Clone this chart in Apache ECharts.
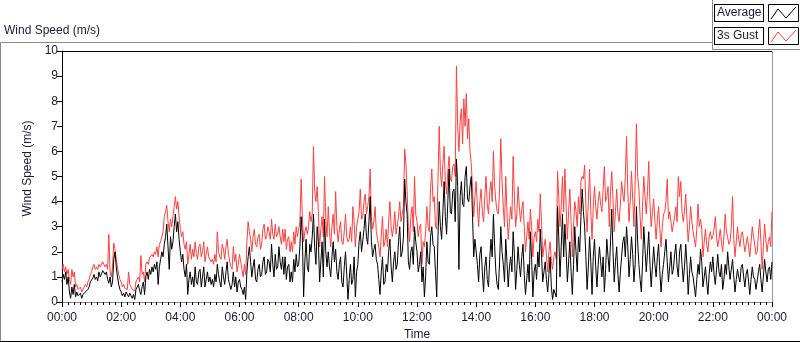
<!DOCTYPE html>
<html>
<head>
<meta charset="utf-8">
<title>Wind Speed</title>
<script src="https://cdn.jsdelivr.net/npm/echarts@6/dist/echarts.min.js"></script>
<style>
  html, body { margin: 0; padding: 0; background: #fff; }
</style>
</head>
<body>
<div id="main" style="width:800px;height:342px;"></div>
<script>
// 2.5-minute samples, 00:00 .. 24:00 (577 points), two rows per hour
var stepMinutes = 2.5;
var avgSpeed = [
  0.8,1.1,0.9,1.2,0.7,1.0,0.4,0.15,0.6,0.3,0.7,0.2,
  0.4,0.25,0.2,0.35,0.15,0.3,0.25,0.4,0.35,0.5,0.6,0.8,
  0.8,0.95,1.1,0.9,1.0,0.85,1.2,1.0,1.1,1.25,1.3,1.1,
  1.2,0.9,0.75,1.0,0.6,0.8,1.7,2.0,1.4,1.0,0.7,0.5,
  0.4,0.25,0.35,0.2,0.4,0.3,0.2,0.35,0.25,0.15,0.3,0.1,
  0.5,0.6,0.7,0.45,0.3,0.6,0.8,0.3,1.0,1.2,0.9,1.3,
  1.1,1.4,1.2,1.5,1.3,1.6,0.7,1.4,1.7,2.0,1.8,2.3,
  2.6,3.1,2.2,1.3,2.6,2.1,2.4,3.0,3.5,2.8,3.2,2.5,
  2.0,1.6,1.9,1.3,1.0,1.5,0.3,0.9,1.2,0.7,1.0,0.6,
  1.4,0.8,0.7,1.2,1.3,0.6,1.0,1.4,0.6,0.9,1.2,0.8,
  1.0,0.7,0.9,0.6,1.1,0.8,1.5,1.1,0.8,0.6,1.4,1.0,
  0.7,1.2,1.6,0.9,0.9,0.5,0.7,1.2,0.6,1.0,0.4,0.8,
  0.9,0.6,0.5,0.3,0.6,0.1,1.2,1.8,2.2,1.6,1.0,1.4,
  1.7,0.9,0.8,1.3,1.5,1.0,1.1,1.6,1.8,1.1,1.2,1.7,
  1.6,1.2,2.3,1.5,1.0,1.9,1.3,1.4,2.2,1.6,1.3,1.8,
  1.1,1.8,0.9,1.4,1.5,0.8,1.2,0.8,1.7,1.2,1.9,1.4,
  1.5,2.2,3.4,2.6,0.2,1.6,2.5,1.4,1.2,2.3,2.0,2.6,
  3.5,2.2,1.5,3.0,2.4,0.8,1.6,2.4,1.0,3.3,2.0,1.4,
  2.0,1.4,1.0,1.8,2.4,1.6,2.1,1.2,0.9,1.5,1.8,0.8,
  0.6,1.4,2.0,1.1,0.1,0.9,1.5,0.7,0.9,1.8,0.2,1.2,
  1.5,2.4,2.8,2.0,2.0,2.9,3.5,2.6,2.3,3.2,4.2,2.4,
  1.8,2.1,2.3,1.7,1.5,0.9,0.3,1.2,1.8,0.7,0.8,1.5,
  1.2,2.0,2.5,1.4,0.8,1.6,2.0,1.3,1.5,2.4,3.0,1.8,
  2.0,2.6,4.9,4.0,3.5,1.6,1.3,2.0,2.2,1.5,3.0,2.4,
  2.0,1.2,1.5,2.0,0.8,1.4,0.2,1.0,2.4,1.6,1.5,2.6,
  3.0,2.3,2.2,1.2,0.2,2.6,4.0,3.0,2.5,3.6,4.8,3.4,
  2.7,4.0,5.3,3.6,3.5,4.4,4.5,3.2,5.7,4.6,1.3,4.2,
  4.8,3.9,3.8,5.0,5.4,4.1,4.0,4.6,5.0,3.5,1.8,2.5,
  2.5,1.5,0.8,1.9,2.2,1.2,0.4,1.4,1.8,0.9,0.6,1.7,
  2.5,1.8,3.5,2.2,1.2,0.7,0.5,1.6,3.0,2.0,1.5,0.8,
  2.5,1.6,0.6,1.4,1.8,1.2,2.8,1.9,0.5,1.3,2.2,1.5,
  1.0,1.8,2.3,1.1,0.3,0.9,1.5,0.8,2.8,1.7,0.2,1.2,
  1.5,0.9,2.0,1.4,2.9,1.9,0.8,1.2,1.6,0.9,0.4,1.1,
  1.8,0.6,0.1,0.5,0.5,0.2,3.8,2.6,1.0,2.2,3.5,1.8,
  3.1,2.0,0.8,1.6,2.4,1.2,0.3,1.5,3.0,2.0,1.2,2.6,
  2.0,3.4,4.5,3.6,3.0,1.8,0.5,1.4,2.6,1.6,0.3,1.8,
  2.5,1.4,0.6,1.5,2.2,1.6,1.0,1.8,0.4,1.3,2.5,1.8,
  1.2,2.4,3.7,2.0,0.8,1.6,2.2,1.1,0.4,1.2,1.8,2.4,
  2.6,1.8,3.0,2.2,1.0,1.7,2.6,1.9,0.8,1.5,3.8,2.4,
  1.5,0.9,0.4,1.6,3.0,2.1,1.2,2.0,2.8,1.5,0.6,1.4,
  2.2,1.5,1.0,1.8,2.3,1.2,0.4,1.1,1.5,2.0,2.5,1.6,
  0.8,1.4,2.0,1.1,1.3,1.9,2.3,1.4,1.0,2.0,2.3,1.5,
  0.8,1.4,2.3,1.5,0.3,1.1,1.8,1.2,1.0,0.6,0.2,0.9,
  1.5,1.1,2.1,1.6,0.6,1.0,1.4,0.8,0.3,1.1,1.6,1.2,
  1.8,1.1,0.7,1.3,1.9,1.2,1.0,1.5,0.5,0.9,1.5,1.1,
  2.0,1.4,0.9,1.3,1.7,1.0,0.4,0.9,1.3,1.0,0.8,1.4,
  1.5,1.0,0.6,1.1,1.3,0.8,0.3,0.9,1.4,1.0,0.9,0.5,
  0.5,1.2,1.5,0.9,0.4,1.0,1.7,1.2,0.8,1.3,1.4,0.9,
  1.6
];
var gustSpeed = [
  1.3,1.5,1.2,1.4,1.1,1.3,0.9,0.7,1.3,1.0,1.2,0.6,
  0.7,0.5,0.45,0.6,0.4,0.5,0.55,0.7,0.6,0.8,0.9,1.1,
  1.2,1.4,1.5,1.3,1.4,1.3,1.5,1.4,1.4,1.6,1.6,1.4,
  1.5,1.3,2.7,1.2,1.0,1.4,2.35,2.1,1.7,1.4,1.1,0.9,
  0.8,0.6,0.7,0.55,0.6,0.5,1.2,0.7,0.6,0.5,0.55,0.45,
  0.8,0.9,1.0,0.8,1.85,1.1,1.2,0.8,1.5,1.6,1.5,1.75,
  1.8,1.9,1.8,2.0,1.9,2.2,1.8,2.3,2.4,2.6,2.8,3.4,
  3.6,3.85,3.2,2.8,3.3,3.0,3.4,3.8,4.2,3.7,4.0,3.4,
  2.9,2.6,2.8,2.3,2.1,2.4,1.5,1.9,2.3,1.7,2.1,1.8,
  2.4,1.9,1.7,2.2,2.3,1.8,2.0,2.4,1.6,1.9,2.2,1.8,
  1.8,1.6,1.7,1.5,1.9,1.6,2.8,2.0,1.8,1.7,2.3,2.1,
  1.7,2.2,2.5,1.9,1.9,1.4,1.3,2.2,1.6,1.9,1.2,1.5,
  1.9,1.6,1.3,1.0,1.5,1.1,2.4,3.2,2.8,2.5,2.0,2.6,
  2.9,2.3,2.2,2.6,2.7,2.1,2.3,2.9,3.1,2.5,2.6,3.0,
  2.8,2.5,3.3,2.7,2.5,3.1,2.6,2.7,3.0,2.6,2.3,2.9,
  2.4,2.9,2.1,2.5,2.6,2.0,2.4,2.0,2.8,2.3,3.0,2.6,
  2.6,3.2,4.9,3.4,2.4,2.8,3.0,2.7,3.0,3.6,3.2,3.5,
  6.2,4.4,4.0,4.6,3.6,2.2,2.9,3.4,2.6,5.0,3.3,2.6,
  3.8,2.8,2.2,3.0,3.5,2.7,4.4,3.0,2.4,2.9,3.2,2.4,
  2.3,2.8,3.5,2.6,2.4,2.5,3.0,2.4,3.8,3.2,2.2,3.0,
  3.0,3.6,4.5,3.3,3.4,4.0,4.3,3.5,3.8,4.2,5.3,3.4,
  2.9,3.2,3.8,2.8,2.5,2.2,1.8,2.6,3.4,2.2,2.4,2.9,
  2.2,3.2,4.0,3.0,2.6,3.0,3.6,2.7,2.7,3.4,4.0,3.2,
  3.2,3.8,6.1,5.5,4.4,3.0,2.4,3.4,3.8,2.8,5.0,3.5,
  3.2,2.6,3.0,3.1,1.5,2.4,2.2,2.8,3.8,3.0,2.8,4.5,
  5.3,4.0,4.2,3.0,2.9,4.8,7.0,5.2,4.6,5.5,6.2,4.8,
  4.3,5.2,5.8,4.9,4.8,5.4,5.5,5.0,9.4,7.0,6.0,7.2,
  7.7,6.3,8.1,7.0,8.3,6.5,7.3,6.0,5.5,4.6,3.4,4.2,
  4.8,3.8,3.0,4.0,4.5,3.6,3.2,4.2,5.0,3.9,3.5,4.4,
  4.8,4.0,6.0,4.6,4.0,3.6,3.5,4.5,6.5,4.8,3.8,3.0,
  5.0,3.6,2.5,3.2,3.8,3.3,5.8,4.2,3.0,3.5,4.6,3.8,
  3.2,3.7,4.0,3.0,2.0,2.6,3.2,2.5,3.7,3.0,1.8,2.6,
  2.8,2.4,3.3,2.8,4.3,3.2,1.8,2.2,2.5,1.9,1.2,2.0,
  2.4,1.6,1.3,1.8,2.0,1.7,5.2,4.2,3.0,3.8,5.0,3.6,
  5.3,3.8,2.5,3.6,4.5,3.2,1.8,3.0,4.0,3.6,3.0,4.2,
  3.5,4.8,5.0,4.9,5.45,3.8,2.8,4.0,5.3,3.6,2.5,3.8,
  4.6,3.8,3.3,4.0,4.4,3.9,3.6,4.5,5.4,4.0,4.2,4.6,
  3.0,4.4,5.2,4.1,2.8,3.6,4.5,3.5,3.2,3.9,4.8,4.3,
  4.0,5.0,6.6,4.4,3.2,4.0,5.2,4.1,3.0,4.8,7.1,5.0,
  4.5,3.4,2.5,3.8,5.0,4.2,3.5,4.4,5.6,3.9,3.0,3.6,
  4.1,3.2,2.5,3.3,3.8,2.9,2.2,3.0,3.5,3.6,4.0,4.9,
  3.3,3.6,3.6,2.8,2.8,3.4,3.8,3.2,5.0,4.2,4.8,3.6,
  3.2,3.6,4.3,3.3,2.4,3.0,3.8,3.2,2.8,2.5,2.2,2.9,
  3.9,3.0,3.3,2.9,1.8,2.4,2.9,2.3,2.0,2.6,2.8,2.5,
  2.6,2.9,3.4,2.6,2.2,2.5,2.9,2.4,2.0,2.6,3.5,2.8,
  2.6,2.3,2.4,3.0,4.2,2.5,1.8,2.4,3.0,2.5,2.2,2.7,
  2.8,2.4,2.0,2.3,2.6,2.2,1.8,2.4,3.0,2.6,2.3,1.9,
  2.0,2.7,3.3,2.4,1.3,2.2,3.1,2.5,2.0,2.4,2.6,2.2,
  3.6
];
var yTicks = [0, 10, 1];
var seriesNames = ['Average', '3s Gust'];
var seriesColors = ['#000000', '#ff4040'];

function toPairs(values) {
  return values.map(function (v, i) { return [i * stepMinutes, v]; });
}
function pad(n) { return (n < 10 ? '0' : '') + n; }

var textColor = '#1a1a3a';
var font = 'Liberation Sans';

var myChart = echarts.init(document.getElementById('main'));

// legend: text box + zigzag swatch box
function swatch(x, y, color) {
  return [
    { type: 'rect', shape: { x: x + 0.5, y: y + 0.5, width: 30, height: 17 },
      style: { fill: '#fff', stroke: '#000', lineWidth: 1 } },
    { type: 'polyline', shape: { points: [[x + 3, y + 15], [x + 10, y + 5], [x + 18, y + 14], [x + 28, y + 3]] },
      style: { stroke: color, lineWidth: 1, fill: null } }
  ];
}
function legendText(x, y, txt) {
  return { type: 'text', x: x, y: y,
    style: { text: txt, fill: textColor, font: '12px "' + font + '"',
      backgroundColor: '#fff', borderColor: '#000', borderWidth: 1,
      padding: [1, 3, 1, 2], width: 43, height: 14, verticalAlign: 'middle', lineHeight: 14 } };
}

var option = {
  animation: false,
  backgroundColor: '#fff',
  grid: { left: 62, right: 28, top: 51, bottom: 40, show: false, outerBoundsMode: 'none', containLabel: false },
  title: {
    text: 'Wind Speed (m/s)', left: 4, top: 25, padding: 0,
    textStyle: { fontFamily: font, fontSize: 12, fontWeight: 'normal', color: textColor }
  },
  graphic: [
    // outer frame
    { type: 'polyline', shape: { points: [[712, 42.5], [0.5, 42.5], [0.5, 341.5]] },
      style: { stroke: '#8a8a8a', lineWidth: 1, fill: null } },
    { type: 'line', shape: { x1: 0, y1: 341.5, x2: 800, y2: 341.5 }, style: { stroke: '#000', lineWidth: 1 } },
    { type: 'polyline', shape: { points: [[712.5, 0], [712.5, 49.5], [800, 49.5]] },
      style: { stroke: '#8a8a8a', lineWidth: 1, fill: null } },
    // plot frame: top dark, right light
    { type: 'line', shape: { x1: 62, y1: 51.5, x2: 772, y2: 51.5 }, style: { stroke: '#000', lineWidth: 1 } },
    { type: 'line', shape: { x1: 772.5, y1: 51, x2: 772.5, y2: 302 }, style: { stroke: '#9a9a9a', lineWidth: 1 } },
    legendText(715, 13, seriesNames[0]),
    legendText(715, 36, seriesNames[1])
  ].concat(swatch(768, 4, seriesColors[0])).concat(swatch(768, 27, seriesColors[1])),
  xAxis: {
    type: 'value', min: 0, max: 1440, interval: 120,
    name: 'Time', nameLocation: 'middle', nameGap: 26,
    nameTextStyle: { fontFamily: font, fontSize: 12, color: textColor },
    axisLine: { show: true, lineStyle: { color: '#8a8a8a', width: 1 } },
    axisTick: { show: true, inside: false, length: 5, lineStyle: { color: '#000' } },
    minorTick: { show: true, splitNumber: 10, length: 3, lineStyle: { color: '#000' } },
    axisLabel: {
      margin: 10, color: textColor, fontFamily: font, fontSize: 12,
      formatter: function (v) { return pad(Math.floor(v / 60) % 24) + ':' + pad(v % 60); }
    },
    splitLine: { show: false }
  },
  yAxis: {
    type: 'value', min: yTicks[0], max: yTicks[1], interval: yTicks[2],
    name: 'Wind Speed (m/s)', nameLocation: 'middle', nameGap: 17, nameRotate: 90,
    nameTextStyle: { fontFamily: font, fontSize: 12, color: textColor, padding: [0, 0, 0, 16] },
    axisLine: { show: true, lineStyle: { color: '#000', width: 1 } },
    axisTick: { show: true, inside: false, length: 5, lineStyle: { color: '#000' } },
    axisLabel: { margin: 4, color: textColor, fontFamily: font, fontSize: 12 },
    splitLine: { show: false }
  },
  series: [
    {
      name: seriesNames[1], type: 'line', data: toPairs(gustSpeed),
      showSymbol: false, symbol: 'none',
      lineStyle: { color: seriesColors[1], width: 1 }, z: 2
    },
    {
      name: seriesNames[0], type: 'line', data: toPairs(avgSpeed),
      showSymbol: false, symbol: 'none',
      lineStyle: { color: seriesColors[0], width: 1 }, z: 3
    }
  ]
};
myChart.setOption(option);
</script>
</body>
</html>
